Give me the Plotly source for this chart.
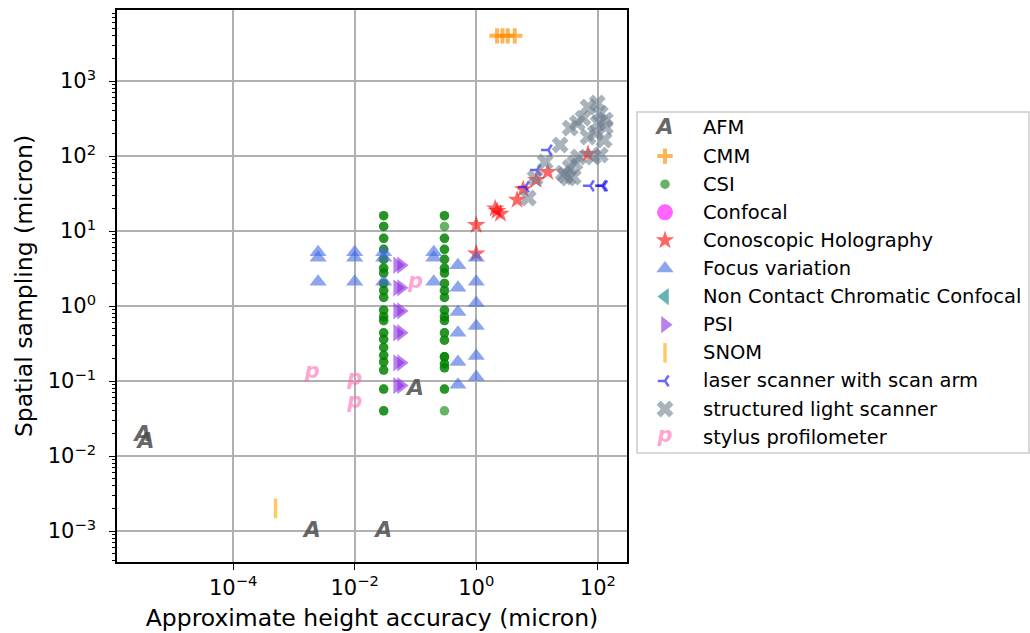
import plotly.graph_objects as go

W, H = 1030, 633

# ---------------- data ----------------
afm_x = [3.3e-6, 3.7e-6, 0.002, 0.03, 0.1]
afm_y = [0.019, 0.015, 0.001, 0.001, 0.076]

cmm_x = [2.2, 2.7, 3.3, 4.3]
cmm_y = [4000, 4000, 4000, 4000]

csi_col1_y = [16, 11.5, 8, 5.7, 4.2, 3.2, 2.75, 2.0, 1.6, 1.3, 0.88, 0.72, 0.64,
              0.44, 0.36, 0.28, 0.22, 0.18, 0.14, 0.078, 0.04]
csi_col2_y = [16, 8, 5.7, 4.2, 3.2, 2.75, 2.0, 1.6, 1.3, 0.88, 0.72, 0.64,
              0.44, 0.35, 0.21, 0.17, 0.15, 0.078]
csi_single_y = [11.5, 0.04, 0.21]
csi_x = [0.03] * len(csi_col1_y) * 2 + [0.3] * len(csi_col2_y) * 2 + [0.3] * len(csi_single_y)
csi_y = csi_col1_y * 2 + csi_col2_y * 2 + csi_single_y

confocal_x = []
confocal_y = []

cono_x = [1, 1, 2.05, 2.2, 2.5, 4.7, 5.9, 9.7, 15, 69]
cono_y = [12, 5, 20, 18.5, 17, 26, 36, 48, 61, 106]

focus_x = [0.0025, 0.0025, 0.0025, 0.01, 0.01, 0.01, 0.03, 0.03, 0.03, 0.2, 0.2, 0.2,
           0.5, 0.5, 0.5, 0.5, 0.5, 0.5, 1, 1, 1, 1, 1, 1]
focus_y = [5.2, 4.4, 2.1, 5.2, 4.4, 2.1, 5.2, 4.4, 2.1, 5.2, 4.4, 2.1,
           3.5, 1.75, 0.83, 0.44, 0.18, 0.089, 4.4, 2.1, 1.1, 0.54, 0.215, 0.113]

nccc_x = []
nccc_y = []

psi_x = [0.05, 0.058, 0.05, 0.058, 0.05, 0.058, 0.05, 0.058, 0.05, 0.058, 0.05, 0.058]
psi_y = [3.5, 3.5, 1.75, 1.75, 0.86, 0.86, 0.44, 0.44, 0.175, 0.175, 0.087, 0.087]

snom_x = [0.0005]
snom_y = [0.002]

laser_x = [6.4, 10, 15.3, 75, 118, 125]
laser_y = [38.6, 65, 120, 40, 40, 40]

sls_x = [7.2, 9.3, 13.6, 24, 35, 46, 69, 98, 101, 91, 69, 133, 48, 84, 35, 42, 32.5,
         39.5, 27, 57, 110, 127, 29, 110, 133]
sls_y = [27.5, 51, 83, 140, 236, 275, 450, 509, 275, 203, 179, 302, 97, 97, 71, 81, 51,
         52.5, 59, 318, 372, 163, 56, 103, 244]

stylus_x = [0.002, 0.01, 0.01, 0.1]
stylus_y = [0.128, 0.103, 0.051, 2.05]

x_ticks = [1e-4, 1e-2, 1, 1e2]
x_ticktext = ["10<sup>\u22124</sup>", "10<sup>\u22122</sup>", "10<sup>0</sup>", "10<sup>2</sup>"]
y_ticks = [1e-3, 1e-2, 1e-1, 1, 1e1, 1e2, 1e3]
y_ticktext = ["10<sup>\u22123</sup>", "10<sup>\u22122</sup>", "10<sup>\u22121</sup>", "10<sup>0</sup>",
              "10<sup>1</sup>", "10<sup>2</sup>", "10<sup>3</sup>"]

# ---------------- styles ----------------
FONT = "DejaVu Sans"

series = [
    dict(name="AFM", x=afm_x, y=afm_y, kind="text", glyph="A", color="rgba(75,75,75,0.85)", size=22),
    dict(name="CMM", x=cmm_x, y=cmm_y, kind="marker",
         marker=dict(symbol="cross-thin", size=11, color="rgba(255,140,0,0.65)",
                     line=dict(color="rgba(255,140,0,0.65)", width=4))),
    dict(name="CSI", x=csi_x, y=csi_y, kind="marker",
         marker=dict(symbol="circle", size=9.5, color="rgba(0,128,0,0.6)", line=dict(width=0))),
    dict(name="Confocal", x=confocal_x, y=confocal_y, kind="marker",
         marker=dict(symbol="circle", size=16, color="rgba(255,0,255,0.6)", line=dict(width=0))),
    dict(name="Conoscopic Holography", x=cono_x, y=cono_y, kind="marker",
         marker=dict(symbol="star", size=14, color="rgba(255,0,0,0.6)", line=dict(width=0))),
    dict(name="Focus variation", x=focus_x, y=focus_y, kind="marker",
         marker=dict(symbol="triangle-up", size=15, color="rgba(65,105,225,0.6)", line=dict(width=0))),
    dict(name="Non Contact Chromatic Confocal", x=nccc_x, y=nccc_y, kind="marker",
         marker=dict(symbol="triangle-left", size=15, color="rgba(0,128,128,0.6)", line=dict(width=0))),
    dict(name="PSI", x=psi_x, y=psi_y, kind="marker",
         marker=dict(symbol="triangle-right", size=15, color="rgba(138,43,226,0.6)", line=dict(width=0))),
    dict(name="SNOM", x=snom_x, y=snom_y, kind="marker",
         marker=dict(symbol="line-ns", size=14, color="rgba(255,165,0,0.6)",
                     line=dict(color="rgba(255,165,0,0.6)", width=3.5))),
    dict(name="laser scanner with scan arm", x=laser_x, y=laser_y, kind="marker",
         marker=dict(symbol="y-left", size=9, color="rgba(0,0,255,0.6)",
                     line=dict(color="rgba(0,0,255,0.6)", width=2.5))),
    dict(name="structured light scanner", x=sls_x, y=sls_y, kind="marker",
         marker=dict(symbol="x", size=15, color="rgba(112,128,144,0.6)", line=dict(width=0))),
    dict(name="stylus profilometer", x=stylus_x, y=stylus_y, kind="text", glyph="p",
         color="rgba(255,105,180,0.6)", size=21),
]

fig = go.Figure()

# main scatter traces
for s in series:
    if s["kind"] == "text":
        fig.add_trace(go.Scatter(
            x=s["x"], y=s["y"], mode="text", text=[s["glyph"]] * len(s["x"]),
            textposition="middle center",
            textfont=dict(family=FONT, size=s["size"], color=s["color"], weight="bold", style="italic"),
            showlegend=False, hoverinfo="skip", xaxis="x", yaxis="y"))
    else:
        fig.add_trace(go.Scatter(
            x=s["x"], y=s["y"], mode="markers", marker=s["marker"],
            showlegend=False, name=s["name"], xaxis="x", yaxis="y"))

# ---------------- manual legend (matplotlib style) ----------------
LEG_L, LEG_R, LEG_T, LEG_B = 637, 1029, 112, 453
leg_top_row = 128
leg_row_step = 28.1
glyph_px = 665
label_px = 701


def lx(px):
    return (px - LEG_L) / (LEG_R - LEG_L)


def ly(py):
    return (LEG_B - py) / (LEG_B - LEG_T)


annotations = []
for i, s in enumerate(series):
    yy = ly(leg_top_row + i * leg_row_step)
    if s["kind"] == "text":
        fig.add_trace(go.Scatter(
            x=[lx(glyph_px)], y=[yy], mode="text", text=[s["glyph"]],
            textposition="middle center",
            textfont=dict(family=FONT, size=s["size"], color=s["color"], weight="bold", style="italic"),
            showlegend=False, hoverinfo="skip", xaxis="x2", yaxis="y2"))
    else:
        fig.add_trace(go.Scatter(
            x=[lx(glyph_px)], y=[yy], mode="markers", marker=s["marker"],
            showlegend=False, hoverinfo="skip", xaxis="x2", yaxis="y2"))
    annotations.append(dict(
        x=lx(label_px), y=yy, xref="x2", yref="y2", text=s["name"], showarrow=False,
        xanchor="left", yanchor="middle", font=dict(family=FONT, size=19.5, color="black")))

shapes = [dict(type="rect", xref="paper", yref="paper",
               x0=LEG_L / W, x1=LEG_R / W, y0=(H - LEG_B) / H, y1=(H - LEG_T) / H,
               line=dict(color="#cccccc", width=1.5), fillcolor="rgba(255,255,255,0.8)",
               layer="below")]

PL, PR, PT, PB = 117, 627, 10, 562

axis_common = dict(
    type="log", showline=True, linecolor="black", linewidth=1.5, mirror=True,
    ticks="outside", ticklen=6, tickwidth=1.3, tickcolor="black",
    showgrid=True, gridcolor="#b0b0b0", gridwidth=1.5, zeroline=False,
    tickfont=dict(family=FONT, size=21, color="black"),
)

fig.update_layout(
    width=W, height=H,
    margin=dict(l=0, r=0, t=0, b=0),
    paper_bgcolor="white", plot_bgcolor="white",
    font=dict(family=FONT, color="black"),
    showlegend=False,
    xaxis=dict(**axis_common, domain=[PL / W, PR / W], range=[-5.91, 2.48],
               tickvals=x_ticks, ticktext=x_ticktext, automargin=False,
               title=dict(text="Approximate height accuracy (micron)",
                          font=dict(family=FONT, size=23.5, color="black"), standoff=11)),
    yaxis=dict(**axis_common, domain=[(H - PB) / H, (H - PT) / H], range=[-3.413, 3.947],
               tickvals=y_ticks, ticktext=y_ticktext, automargin=False, ticklabelstandoff=9,
               minor=dict(ticks="outside", ticklen=3.5, tickwidth=1, tickcolor="black",
                          dtick="D1", showgrid=False),
               title=dict(text="Spatial sampling (micron)",
                          font=dict(family=FONT, size=23.5, color="black"), standoff=8)),
    xaxis2=dict(domain=[LEG_L / W, LEG_R / W], range=[0, 1], visible=False, anchor="y2",
                fixedrange=True),
    yaxis2=dict(domain=[(H - LEG_B) / H, (H - LEG_T) / H], range=[0, 1], visible=False,
                anchor="x2", fixedrange=True),
    annotations=annotations,
    shapes=shapes,
)

fig.write_html("out.html", config={"displayModeBar": False},
               post_script="document.body.style.margin='0';document.body.style.padding='0';")
